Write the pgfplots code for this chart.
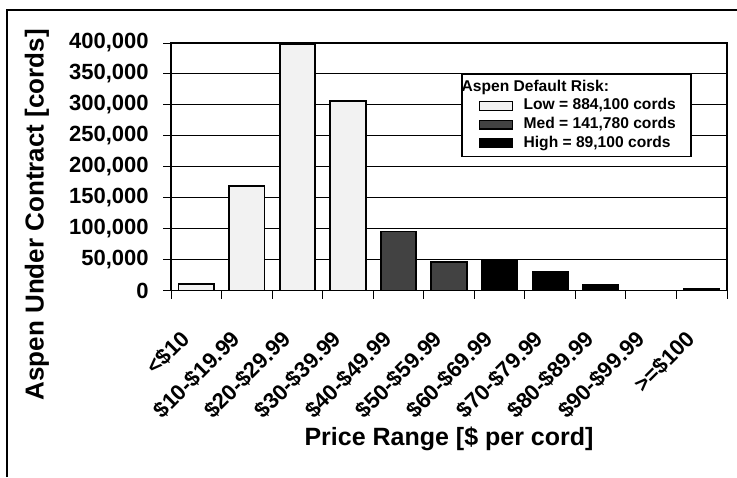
\documentclass[border=0pt]{standalone}
\usepackage{fontspec}
\setmainfont{Liberation Sans}
\usepackage{pgfplots}
\pgfplotsset{compat=1.18}
\pgfplotsset{
  mylegend/.style={legend image code/.code={\path (0pt,0pt) (22.5pt,0pt);\draw[##1, line width=0.6pt] (3pt,-2.2pt) rectangle (19.5pt,2.2pt);}},
  mybar/.style={ybar, bar width=0.7, bar shift=0pt, draw=black, line width=0.9pt, mylegend},
}
\begin{document}
\begin{tikzpicture}
\path[use as bounding box] (0,0) rectangle (368.5pt,238.5pt);
\draw[line width=0.8pt] (3.5pt,0) -- (3.5pt,233.5pt) -- (368.5pt,233.5pt);
\begin{axis}[
  at={(85.5pt,93.25pt)}, anchor=south west,
  scale only axis, width=278pt, height=123.75pt,
  xmin=0, xmax=11, ymin=0, ymax=400000,
  ytick={0,50000,...,400000},
  scaled y ticks=false,
  /pgf/number format/fixed,
  /pgf/number format/1000 sep={,},
  /pgf/number format/assume math mode=true,
  xtick={0,1,...,11}, xticklabels={},
  extra x ticks={0.5,1.5,...,10.5},
  extra x tick labels={<\$10,\$10-\$19.99,\$20-\$29.99,\$30-\$39.99,\$40-\$49.99,\$50-\$59.99,\$60-\$69.99,\$70-\$79.99,\$80-\$89.99,\$90-\$99.99,>=\$100},
  extra x tick style={major tick length=0pt,
    xticklabel style={font=\fontsize{11}{13}\selectfont\bfseries, inner sep=0pt, xshift=-8.5pt, yshift=-19pt, rotate=45, anchor=north east}},
  tick align=outside, xtick pos=bottom, ytick pos=left,
  major tick length=4pt,
  tick style={black, line width=0.5pt},
  ymajorgrids, grid style={black, line width=0.5pt},
  axis line style={black, line width=0.7pt},
  yticklabel style={font=\fontsize{11}{13}\selectfont\bfseries, anchor=east, inner sep=0pt, xshift=-7pt},
  xlabel={Price Range [\$ per cord]},
  ylabel={Aspen Under Contract [cords]},
  xlabel style={font=\fontsize{12.5}{14}\selectfont\bfseries, at={(axis description cs:0.5,-0.6)}, anchor=center},
  ylabel style={font=\fontsize{13}{15}\selectfont\bfseries, at={(axis description cs:-0.241,0.306)}, anchor=center},
  legend style={at={(axis description cs:0.5216,0.879)}, anchor=north west, draw=black, line width=0.8pt,
    font=\fontsize{7.8}{9}\selectfont\bfseries, row sep=0pt, inner xsep=5.5pt, inner ysep=2pt,
    nodes={inner ysep=1.1pt, inner xsep=2pt}},
  legend cell align=left,
]
\addlegendimage{empty legend}
\addlegendentry{\hspace{-31pt}Aspen Default Risk:}
\addplot[mybar, fill=black!5]
  coordinates {(0.5,10500) (1.5,169000) (2.5,398000) (3.5,306600)};
\addlegendentry{Low = 884,100 cords}
\addplot[mybar, fill=black!74]
  coordinates {(4.5,95280) (5.5,46500)};
\addlegendentry{Med = 141,780 cords}
\addplot[mybar, fill=black]
  coordinates {(6.5,47200) (7.5,30000) (8.5,8800) (10.5,3100)};
\addlegendentry{High = 89,100 cords}
\end{axis}
\end{tikzpicture}
\end{document}
